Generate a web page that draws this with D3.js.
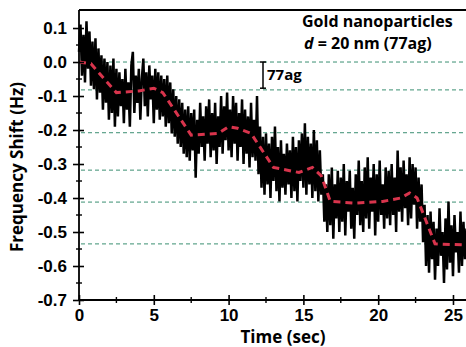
<!DOCTYPE html>
<html lang="en">
<head>
    <meta charset="utf-8">
    <title>Gold nanoparticles frequency shift</title>
    <style>
    html, body {
        margin: 0;
        background-color: white;
    }
    svg {
        font-family: 'Open Sans', sans-serif;
    }
    .axis path, .axis line {
        stroke: black;
    }
    </style>
</head>
<body>
    <div id="vis"></div>

    <script src="https://d3js.org/d3.v7.min.js"></script>
    <script>
// sampled trace, one value every 0.1 s
var dt = 0.1;
var shift = [
    0.03, 0.11, -0.04, 0.08, -0.06, 0.12, -0.02, 0.09,
    -0.07, 0.06, -0.08, 0.07, -0.11, 0.04, -0.09, 0.02, -0.14, 0.01,
    -0.12, 0.0, -0.17, -0.01, -0.15, 0.01, -0.19, -0.02,
    -0.16, -0.03, -0.13, -0.05, -0.18, -0.02, -0.14, -0.06, -0.19, -0.01,
    0.03, -0.15, -0.04, -0.12, -0.02, -0.17, -0.05, 0.01, -0.13, -0.03,
    -0.16, -0.01, -0.11, -0.04, -0.18, -0.02, -0.14,
    -0.03, -0.17, -0.04, -0.16, -0.05, -0.19, -0.04, -0.18, -0.06, -0.21,
    -0.08, -0.22, -0.10, -0.24, -0.11, -0.25, -0.12, -0.27, -0.14, -0.28,
    -0.13, -0.29, -0.15,
    -0.26, -0.14, -0.34, -0.17, -0.27, -0.12, -0.25, -0.16, -0.29, -0.13,
    -0.24, -0.11, -0.28, -0.15, -0.26, -0.12, -0.30, -0.16, -0.25, -0.10,
    -0.27, -0.13, -0.23, -0.09, -0.26, -0.14, -0.28, -0.10, -0.24, -0.12,
    -0.29, -0.15, -0.25, -0.11, -0.30, -0.14, -0.27, -0.16, -0.31, -0.12,
    -0.28, -0.17, -0.29, -0.10,
    -0.33, -0.19, -0.37, -0.22, -0.39,
    -0.21, -0.36, -0.24, -0.40, -0.22, -0.35, -0.19, -0.38, -0.25, -0.41,
    -0.23, -0.37, -0.27, -0.39, -0.24, -0.36, -0.26, -0.40, -0.22, -0.38,
    -0.25, -0.41, -0.23, -0.35, -0.21, -0.37, -0.18, -0.39, -0.22, -0.36,
    -0.24, -0.40, -0.20, -0.38, -0.23, -0.41, -0.26, -0.39,
    -0.33, -0.47, -0.36, -0.50,
    -0.33, -0.48, -0.31, -0.52, -0.36, -0.46, -0.32, -0.50, -0.34, -0.47,
    -0.30, -0.51, -0.35, -0.44, -0.32, -0.49, -0.37, -0.52, -0.33, -0.45,
    -0.29, -0.48, -0.35, -0.50, -0.31, -0.46, -0.28, -0.49, -0.34, -0.44,
    -0.30, -0.51, -0.33, -0.47, -0.29, -0.45, -0.36, -0.49, -0.31, -0.46,
    -0.32, -0.48, -0.30, -0.45, -0.34, -0.50, -0.26, -0.44, -0.31, -0.47,
    -0.29, -0.43, -0.33, -0.48, -0.28, -0.46, -0.30, -0.42, -0.31, -0.49,
    -0.34, -0.47,
    -0.36, -0.53, -0.42, -0.60, -0.45,
    -0.62, -0.44, -0.58, -0.47, -0.64, -0.49, -0.60, -0.43, -0.57, -0.50,
    -0.65, -0.46, -0.61, -0.41, -0.59, -0.48, -0.63, -0.45, -0.56, -0.50,
    -0.62, -0.44, -0.60, -0.47, -0.58, -0.49
];

// red dashed step fit
var fitTime = [0, 0.8, 2.5, 4.0, 5.0, 5.6, 7.5, 9.3, 10.0, 10.6, 11.5, 13.0, 14.7, 15.6, 16.2, 16.8, 18.5, 20.3, 21.5, 22.1, 22.6, 23.8, 25.9];
var fitShift = [0, -0.005, -0.09, -0.085, -0.077, -0.09, -0.215, -0.21, -0.19, -0.195, -0.21, -0.31, -0.325, -0.31, -0.335, -0.41, -0.415, -0.41, -0.40, -0.385, -0.40, -0.535, -0.538];

// green dashed step levels
var levels = [0, -0.082, -0.208, -0.318, -0.412, -0.535];

var xTicks = [0, 5, 10, 15, 20, 25];
var yTicks = [0.1, 0.0, -0.1, -0.2, -0.3, -0.4, -0.5, -0.6, -0.7];

var width = 466;
var height = 347;

var margin = {
    top: 10,
    bottom: 47,
    left: 79,
    right: 0
};

var svg = d3.select('#vis')
    .append('svg')
    .attr('width', width)
    .attr('height', height);

var x_scale = d3.scaleLinear()
    .domain([0, 25.87])
    .range([margin.left, width - margin.right]);

var y_scale = d3.scaleLinear()
    .domain([-0.7, 0.153])
    .range([height - margin.bottom, margin.top]);

var trace = shift.map(function(v, i) {
    return { t: i * dt, v: v };
});

var fit = fitTime.map(function(t, i) {
    return { t: t, v: fitShift[i] };
});

var line = d3.line()
    .x(function(d) { return x_scale(d.t); })
    .y(function(d) { return y_scale(d.v); });

// green level lines
svg.selectAll('.level')
    .data(levels)
    .enter()
    .append('line')
    .attr('class', 'level')
    .attr('x1', x_scale(0) + 2)
    .attr('x2', width)
    .attr('y1', function(d) { return y_scale(d); })
    .attr('y2', function(d) { return y_scale(d); })
    .attr('stroke', '#3b8f72')
    .attr('stroke-width', 1)
    .attr('stroke-dasharray', '4,3');

// noisy trace
svg.append('path')
    .datum(trace)
    .attr('fill', 'none')
    .attr('stroke', 'black')
    .attr('stroke-width', 2.5)
    .attr('stroke-linejoin', 'bevel')
    .attr('d', line);

// fitted steps
svg.append('path')
    .datum(fit)
    .attr('fill', 'none')
    .attr('stroke', '#d8344c')
    .attr('stroke-width', 3)
    .attr('stroke-dasharray', '7,5')
    .attr('d', line);

// top frame
svg.append('line')
    .attr('x1', x_scale(0))
    .attr('x2', width)
    .attr('y1', margin.top)
    .attr('y2', margin.top)
    .attr('stroke', 'black')
    .attr('stroke-width', 2);

// axes
var y_axis = d3.axisLeft(y_scale)
    .tickValues(yTicks)
    .tickFormat(d3.format('.1f'))
    .tickSize(6)
    .tickPadding(6);

var gy = svg.append('g')
    .attr('class', 'y axis')
    .attr('transform', 'translate(' + x_scale(0) + ',0)')
    .call(y_axis);

gy.select('.domain')
    .attr('stroke-width', 1.8)
    .attr('d', 'M0,' + margin.top + 'V' + (height - margin.bottom));
gy.selectAll('.tick line')
    .attr('x1', 5)
    .attr('stroke-width', 1.6);
gy.selectAll('.tick text')
    .attr('font-size', 17)
    .attr('font-weight', 600)
    .attr('fill', 'black')
    .text(function(d) { return d3.format('.1f')(d).replace('−', '-'); });

var x_axis = d3.axisBottom(x_scale)
    .tickValues(xTicks)
    .tickFormat(d3.format('d'))
    .tickSize(5)
    .tickPadding(4);

var gx = svg.append('g')
    .attr('class', 'x axis')
    .attr('transform', 'translate(0,' + y_scale(-0.7) + ')')
    .call(x_axis);

gx.select('.domain')
    .attr('stroke-width', 1.8)
    .attr('d', 'M' + x_scale(0) + ',0H' + width);
gx.selectAll('.tick line')
    .attr('y1', -5)
    .attr('stroke-width', 1.6);
gx.selectAll('.tick text')
    .attr('font-size', 17)
    .attr('font-weight', 600)
    .attr('fill', 'black');

// minor ticks
var yMinor = yTicks.slice(0, -1).map(function(d) { return d - 0.05; });
svg.selectAll('.yminor')
    .data(yMinor)
    .enter()
    .append('line')
    .attr('x1', x_scale(0) - 3)
    .attr('x2', x_scale(0) + 3)
    .attr('y1', function(d) { return y_scale(d); })
    .attr('y2', function(d) { return y_scale(d); })
    .attr('stroke', 'black')
    .attr('stroke-width', 1.4);

var xMinor = xTicks.map(function(d) { return d + 2.5; });
svg.selectAll('.xminor')
    .data(xMinor)
    .enter()
    .append('line')
    .attr('x1', function(d) { return x_scale(d); })
    .attr('x2', function(d) { return x_scale(d); })
    .attr('y1', y_scale(-0.7) - 3)
    .attr('y2', y_scale(-0.7) + 3)
    .attr('stroke', 'black')
    .attr('stroke-width', 1.4);

// axis titles
svg.append('text')
    .attr('x', 283)
    .attr('y', 343)
    .attr('text-anchor', 'middle')
    .attr('font-size', 17)
    .attr('font-weight', 'bold')
    .text('Time (sec)');

svg.append('text')
    .attr('transform', 'translate(23,167) rotate(-90)')
    .attr('text-anchor', 'middle')
    .attr('font-size', 17)
    .attr('font-weight', 'bold')
    .text('Frequency Shift (Hz)');

// legend text
svg.append('text')
    .attr('x', 302)
    .attr('y', 27)
    .attr('font-size', 16)
    .attr('font-weight', 'bold')
    .text('Gold nanoparticles');

var sub = svg.append('text')
    .attr('x', 304)
    .attr('y', 49)
    .attr('font-size', 16)
    .attr('font-weight', 'bold');
sub.append('tspan')
    .attr('font-style', 'italic')
    .text('d');
sub.append('tspan')
    .text(' = 20 nm (77ag)');

// 77ag scale bracket
var bx = x_scale(12.3);
var b = svg.append('g')
    .attr('stroke', 'black')
    .attr('stroke-width', 1.5);
b.append('line')
    .attr('x1', bx).attr('x2', bx)
    .attr('y1', y_scale(levels[0])).attr('y2', y_scale(-0.077));
b.append('line')
    .attr('x1', bx - 3).attr('x2', bx + 3)
    .attr('y1', y_scale(levels[0])).attr('y2', y_scale(levels[0]));
b.append('line')
    .attr('x1', bx - 3).attr('x2', bx + 3)
    .attr('y1', y_scale(-0.077)).attr('y2', y_scale(-0.077));

svg.append('text')
    .attr('x', bx + 4)
    .attr('y', 80)
    .attr('font-size', 15)
    .attr('font-weight', 'bold')
    .text('77ag');
    </script>
</body>
</html>
